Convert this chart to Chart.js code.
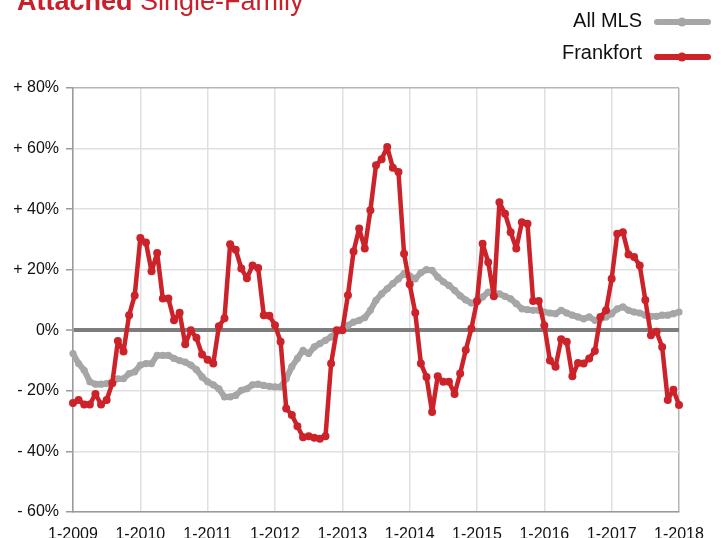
<!DOCTYPE html>
<html>
<head>
<meta charset="utf-8">
<script src="https://cdn.jsdelivr.net/npm/chart.js@4.4.0/dist/chart.umd.min.js"></script>
<style>
  html, body { margin: 0; padding: 0; background: #fff; }
  #wrap { position: relative; width: 721px; height: 538px; overflow: hidden; }
</style>
</head>
<body>
<div id="wrap"><canvas id="chartPrice" width="721" height="538"></canvas></div>
<script>
// x axis: month index from 1-2009 (0) to 1-2018 (108)
var tickLabels = ['1-2009','1-2010','1-2011','1-2012','1-2013','1-2014','1-2015','1-2016','1-2017','1-2018'];

// Frankfort, % change, monthly
var frankfort = [
  -24, -23, -24.5, -24.5, -21, -24.5, -23, -17.5, -3.5, -7, 5, 11.5,
  30.5, 29, 19.5, 25.5, 10.5, 10.5, 3.3, 5.8, -4.6, 0, -2.5, -8,
  -9.7, -11, 1.3, 4, 28.4, 26.6, 20.4, 17.2, 21.4, 20.6, 5, 4.8,
  1.7, -3.8, -25.8, -28, -31.7, -35.3, -35, -35.5, -35.8, -35, -11, 0,
  0, 11.6, 26, 33.6, 27, 39.6, 54.5, 56.5, 60.5, 53.7, 52.3, 25.3,
  15.2, 5.8, -11, -15.4, -27, -15.2, -17, -17, -21, -14.3, -6.5, 0.6,
  9.7, 28.6, 22.5, 11.2, 42.3, 38.5, 32.4, 27, 35.7, 35.2, 9.7, 9.7,
  1.6, -10, -12, -3, -3.8, -15.2, -10.8, -11, -9.3, -6.8, 4.4, 6.6,
  17, 31.9, 32.4, 25, 24.2, 21.4, 10, -1.6, -0.5, -5.5, -23, -19.6,
  -24.7
];

// All MLS, % change, monthly
var allMls = [
  -7.7, -11, -13.2, -17, -17.8, -17.8, -17.6, -17, -16, -16, -14.3, -13.7,
  -11.5, -11, -11, -8.3, -8.3, -8.3, -9.3, -10, -10.5, -11.5, -13, -15.4,
  -17, -18, -19.3, -22, -22, -21.5, -19.8, -19.3, -18, -17.8, -18.2, -18.5,
  -18.7, -18.7, -16, -12, -9.3, -6.6, -7.7, -5.5, -4.4, -3.3, -2.2, -0.5,
  0.5, 1.6, 2.7, 3.3, 4.2, 6.6, 9.9, 12, 13.7, 15.4, 17, 18.7,
  18, 17, 19, 20, 19.8, 17.6, 16, 14.8, 13.2, 11.4, 10, 9,
  9.3, 11, 12.6, 12.3, 12, 11.2, 10.4, 8.8, 7.1, 6.8, 6.6, 6.6,
  6, 5.7, 5.5, 6.6, 5.7, 5, 4.4, 3.8, 4.4, 3.3, 3.8, 4.4,
  5.5, 7.1, 7.7, 6.6, 6, 5.7, 5, 4.6, 4.6, 5, 5, 5.5,
  6
];

var yTicks = [-60, -40, -20, 0, 20, 40, 60, 80];

var red = '#cc2229';
var grey = '#a6a6a6';

function toPoints(arr) {
  return arr.map(function (v, i) { return { x: i, y: v }; });
}

// title and legend drawn on the canvas
var decorPlugin = {
  id: 'decor',
  afterDraw: function (chart) {
    var c = chart.ctx;
    c.save();
    c.textBaseline = 'alphabetic';
    c.textAlign = 'left';
    c.fillStyle = '#c8202a';
    c.font = 'bold 27px "Liberation Sans", Arial, sans-serif';
    c.fillText('Attached', 17, 10);
    var w = c.measureText('Attached ').width;
    c.font = '27px "Liberation Sans", Arial, sans-serif';
    c.fillText('Single-Family', 17 + w, 10);

    var rows = [
      { ds: chart.data.datasets[1], ty: 21, ly: 22 },
      { ds: chart.data.datasets[0], ty: 53, ly: 57 }
    ];
    c.font = '20px "Liberation Sans", Arial, sans-serif';
    c.textBaseline = 'middle';
    c.textAlign = 'right';
    rows.forEach(function (r) {
      c.fillStyle = '#111';
      c.fillText(r.ds.label, 642, r.ty);
      c.strokeStyle = r.ds.borderColor;
      c.lineWidth = 6;
      c.lineCap = 'round';
      c.beginPath();
      c.moveTo(657, r.ly);
      c.lineTo(708, r.ly);
      c.stroke();
      c.fillStyle = r.ds.borderColor;
      c.beginPath();
      c.arc(682, r.ly, 4.5, 0, Math.PI * 2);
      c.fill();
    });
    c.restore();
  }
};

var ctx = document.getElementById('chartPrice').getContext('2d');
var chart = new Chart(ctx, {
  type: 'line',
  data: {
    datasets: [{
        label: 'Frankfort',
        data: toPoints(frankfort),
        borderColor: red,
        backgroundColor: red,
        borderWidth: 4.5,
        borderJoinStyle: 'round',
        borderCapStyle: 'round',
        pointRadius: 4,
        pointHoverRadius: 4,
        pointBorderWidth: 0,
        tension: 0,
        clip: false,
        order: 1
    },
    {
        label: 'All MLS',
        data: toPoints(allMls),
        borderColor: grey,
        backgroundColor: grey,
        borderWidth: 6,
        borderJoinStyle: 'round',
        borderCapStyle: 'round',
        pointRadius: 3.6,
        pointHoverRadius: 3.6,
        pointBorderWidth: 0,
        tension: 0,
        clip: false,
        order: 2
    }]
  },
  options: {
    responsive: false,
    animation: false,
    events: [],
    layout: { padding: { top: 88, right: 42, left: 0, bottom: 0 } },
    plugins: { legend: { display: false }, tooltip: { enabled: false } },
    scales: {
      x: {
        type: 'linear',
        min: 0,
        max: 108,
        afterFit: function (s) { s.height = 26; },
        afterBuildTicks: function (s) {
          s.ticks = tickLabels.map(function (t, i) { return { value: i * 12 }; });
        },
        ticks: {
          autoSkip: false,
          maxRotation: 0,
          padding: 13,
          color: '#111',
          font: { family: '"Liberation Sans", Arial, sans-serif', size: 16 },
          callback: function (v) { return tickLabels[v / 12]; }
        },
        grid: {
          drawTicks: false,
          color: function (c) { return c.tick && c.tick.value === 108 ? '#b5b5b5' : '#e0e0e0'; },
          lineWidth: 1.5
        },
        border: { color: '#9a9a9a', width: 1.5 }
      },
      y: {
        min: -60,
        max: 80,
        afterFit: function (s) { s.width = 73; },
        afterBuildTicks: function (s) {
          s.ticks = yTicks.map(function (v) { return { value: v }; });
        },
        ticks: {
          padding: 7,
          color: '#111',
          font: { family: '"Liberation Sans", Arial, sans-serif', size: 16 },
          callback: function (v) {
            if (v > 0) return '+ ' + v + '%';
            if (v < 0) return '- ' + (-v) + '%';
            return '0%';
          }
        },
        grid: {
          tickLength: 7,
          tickColor: '#9a9a9a',
          tickWidth: 1.5,
          color: function (c) {
            if (!c.tick) return '#e0e0e0';
            if (c.tick.value === 0) return '#7d7d7d';
            if (c.tick.value === 80) return '#b5b5b5';
            return '#e0e0e0';
          },
          lineWidth: function (c) { return c.tick && c.tick.value === 0 ? 4 : 1.5; }
        },
        border: { color: '#9a9a9a', width: 1.5 }
      }
    }
  },
  plugins: [decorPlugin]
});
</script>
</body>
</html>
